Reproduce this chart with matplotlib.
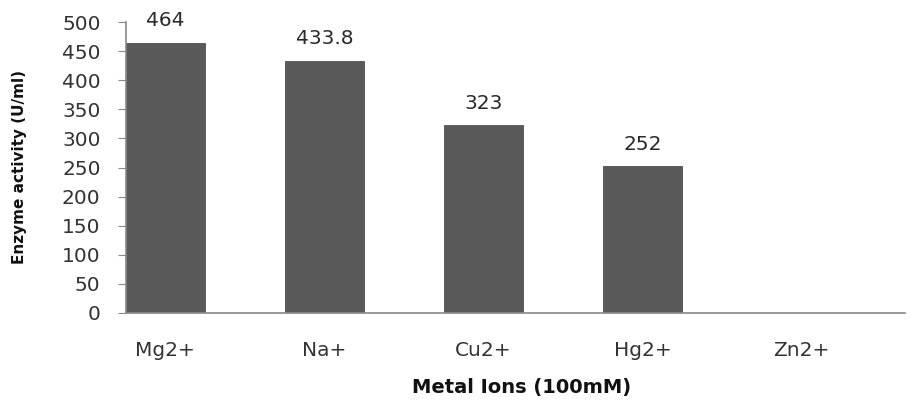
import matplotlib
matplotlib.use("Agg")
import matplotlib.pyplot as plt

ions = ["Mg2+", "Na+", "Cu2+", "Hg2+", "Zn2+"]
activity = [464, 433.8, 323, 252, 0]
value_labels = ["464", "433.8", "323", "252", ""]
yticks = [0, 50, 100, 150, 200, 250, 300, 350, 400, 450, 500]

plt.rcParams["font.family"] = ["DejaVu Sans"]

fig = plt.figure(figsize=(9.10, 4.03), dpi=100)
ax = fig.add_axes([125.5 / 910, 1 - 313 / 403, (905 - 125.5) / 910, (313 - 22) / 403])

x = list(range(len(ions)))
ax.bar(x, activity, width=0.5, color="#595959", edgecolor="#505050", linewidth=0.6, zorder=2)
for xi, v, lab in zip(x, activity, value_labels):
    if lab:
        ax.annotate(lab, (xi, v), xytext=(0, 9), textcoords="offset points",
                    ha="center", va="bottom", fontsize=14.5, color="#2a2a2a")

ax.set_xlim(-0.25, 4.65)
ax.set_ylim(0, 500)
ax.set_yticks(yticks)
ax.set_xticks(x)
ax.set_xticklabels(ions, fontsize=14.5, color="#333333")
ax.tick_params(axis="x", length=0, pad=20)
ax.tick_params(axis="y", length=6, direction="out", color="#888888", labelsize=14.5,
               labelcolor="#333333", pad=12)

for s in ["top", "right"]:
    ax.spines[s].set_visible(False)
for s in ["left", "bottom"]:
    ax.spines[s].set_color("#888888")
    ax.spines[s].set_linewidth(1.2)

ax.set_ylabel("Enzyme activity (U/ml)", fontsize=11, fontweight="bold", color="#111111")
ax.yaxis.set_label_coords(-(125.5 - 19) / 779.5, 0.5)
ax.yaxis.label.set_va("center")
ax.set_xlabel("Metal Ions (100mM)", fontsize=14, fontweight="bold", color="#111111")
ax.xaxis.set_label_coords((522 - 125.5) / 779.5, -(388 - 313) / 291)
ax.xaxis.label.set_va("center")

fig.savefig("out.png", dpi=100)
